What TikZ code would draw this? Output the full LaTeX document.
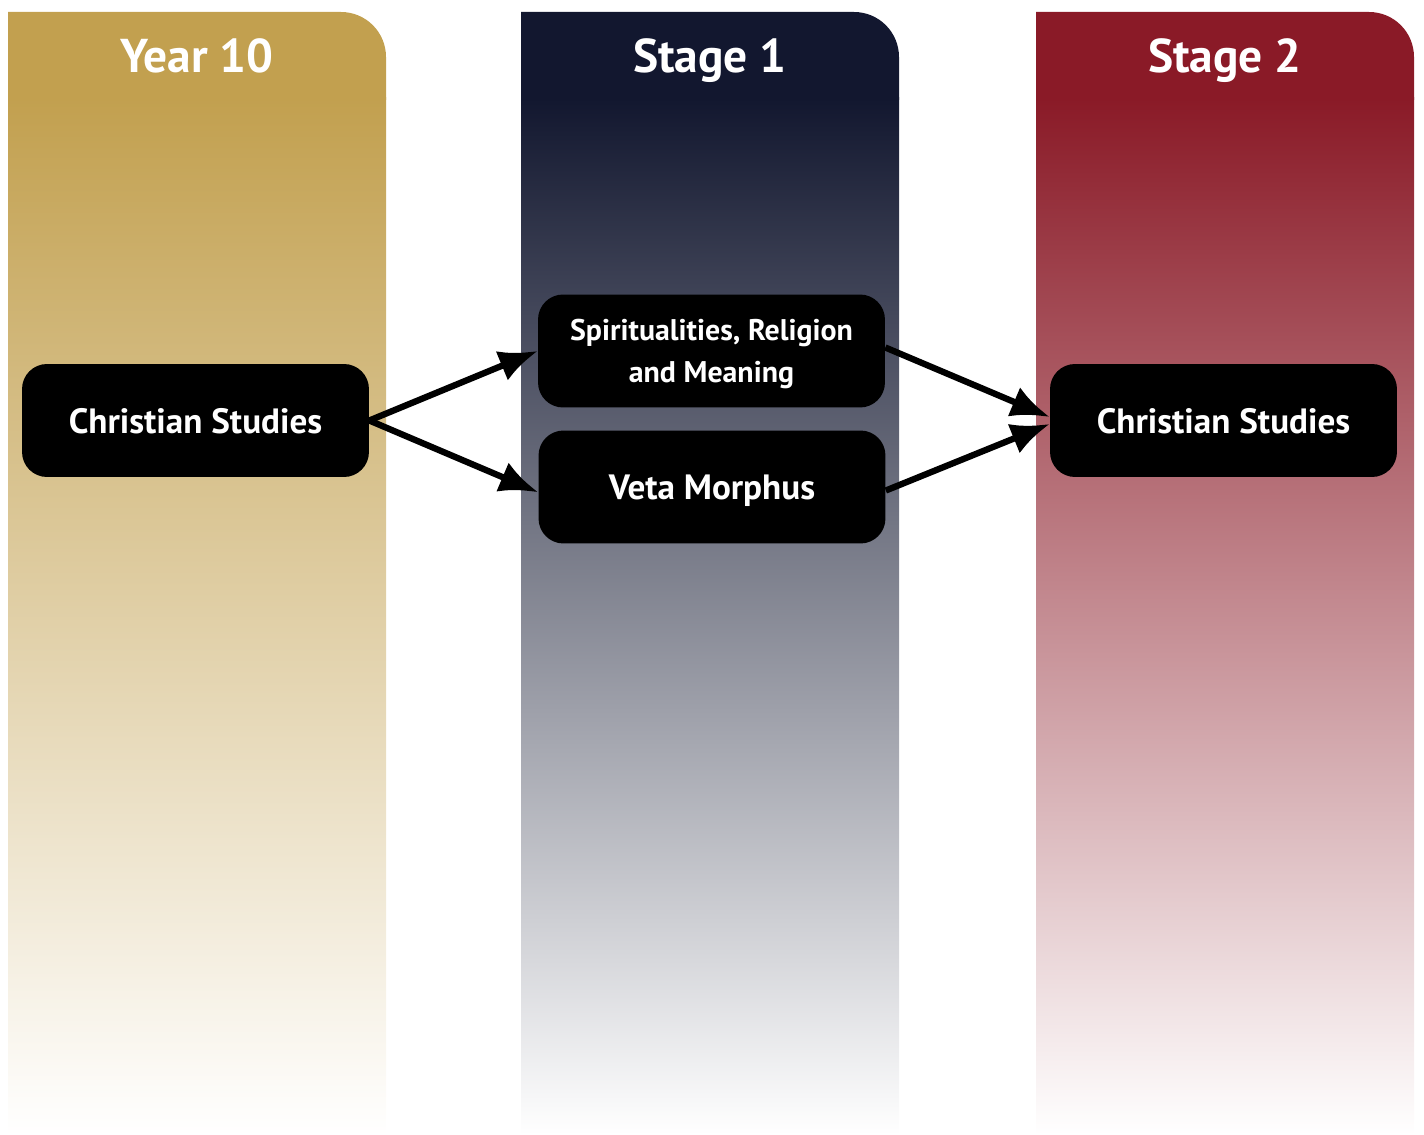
\documentclass[tikz,border=0pt]{standalone}
\usepackage{fontspec}
\setmainfont{PT Sans}
\usetikzlibrary{arrows.meta}
\definecolor{gold}{HTML}{C2A04F}
\definecolor{navy}{HTML}{12172F}
\definecolor{wine}{HTML}{8A1A27}
\tikzset{
    HD/.style ={text=white, text depth=0pt, font=\fontsize{27}{30}\selectfont\bfseries},
    BX/.style ={rectangle, rounded corners=0.5cm, fill=black, text=white, minimum width=6.94cm, minimum height=2.26cm, text depth=0pt, font=\fontsize{20}{24}\selectfont\bfseries, align=center},
    BX2/.style ={BX, font=\fontsize{17}{24}\selectfont\bfseries},
    AR/.style ={line width=3.6pt, -{Latex[length=22pt,width=18pt]}}}
\begin{document}
\begin{tikzpicture}[x=0.02cm,y=-0.02cm]
        \useasboundingbox (0,0) rectangle (1424,1135);
        % columns
        \foreach \x/\c in {8/gold,521/navy,1036/wine}{
            \shade[top color=\c, bottom color=white] (\x,98) rectangle (\x+378,1135);
            \fill[\c] (\x,100) -- (\x,12) [rounded corners=0.9cm] -- (\x+378,12) [sharp corners] -- (\x+378,100) -- cycle;}
        \node[HD] (h1) at (197,56) {Year 10};
        \node[HD] (h2) at (710,56) {Stage 1};
        \node[HD] (h3) at (1225,56) {Stage 2};
        % courses
        \node[BX] (cs) at (195.5,420.5) {Christian Studies};
        \node[BX2] (srm) at (711.5,351) {Spiritualities, Religion\\and Meaning};
        \node[BX] (vm) at (712,487) {Veta Morphus};
        \node[BX] (cs2) at (1223.5,420.5) {Christian Studies};
        \draw[AR] (cs.east) -- (srm.west);
        \draw[AR] (cs.east) -- ([yshift=-3pt]vm.west);
        \draw[AR] ([yshift=2pt]srm.east) -- ([yshift=2pt]cs2.west);
        \draw[AR] ([yshift=-2pt]vm.east) -- ([yshift=-2pt]cs2.west);
\end{tikzpicture}
\end{document}
